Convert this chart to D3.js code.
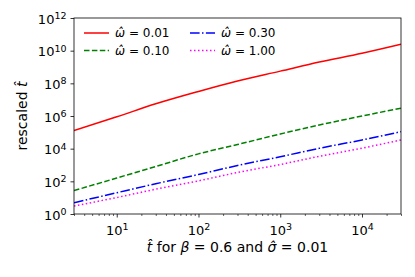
<!DOCTYPE html>
<html>
<head>
<meta charset="utf-8">
<script src="https://cdn.jsdelivr.net/npm/d3@7"></script>
<style>
  body { margin: 0; background: #fff; }
  svg { font-family: "DejaVu Sans", sans-serif; }
</style>
</head>
<body>
<div id="chart"></div>
<script>
// data
const tValues = [3, 10, 30, 100, 300, 1000, 3000, 10000, 30000];
const omega001 = [1.3e5, 8.9e5, 5.6e6, 3.2e7, 1.4e8, 5.6e8, 2e9, 7e9, 2.5e10];
const omega010 = [27, 160, 810, 4.8e3, 1.8e4, 7.9e4, 2.8e5, 1e6, 3e6];
const omega030 = [4.9, 20, 71, 263, 930, 3.2e3, 1.05e4, 3.4e4, 1.1e5];
const omega100 = [3.1, 10.2, 33, 107, 350, 1.07e3, 3.4e3, 1.07e4, 3.4e4];
const seriesLabels = ["0.01", "0.10", "0.30", "1.00"];
const xTickExp = [1, 2, 3, 4];
const yTickExp = [0, 2, 4, 6, 8, 10, 12];

const series = [
    {label: seriesLabels[0], values: omega001, color: "#ff0000", dash: null},
    {label: seriesLabels[1], values: omega010, color: "#008000", dash: "5.5,2.4"},
    {label: seriesLabels[2], values: omega030, color: "#0000ff", dash: "9.6,2.4,1.5,2.4"},
    {label: seriesLabels[3], values: omega100, color: "#ff00ff", dash: "1.5,2.5"}
];

const W = 415, H = 277;
const margin = {top: 18, right: 14, bottom: 63, left: 74};
const width = W - margin.left - margin.right;
const height = H - margin.top - margin.bottom;

const svg = d3.select("#chart").append("svg")
    .attr("width", W)
    .attr("height", H);

const g = svg.append("g")
    .attr("transform", "translate(" + margin.left + "," + margin.top + ")");

const x = d3.scaleLog().domain([3, 30000]).range([0, width]);
const y = d3.scaleLog().domain([1, 1e12]).range([height, 0]);

// superscript tick labels like 10^4
function powerLabel(sel, exps) {
    sel.each(function(d, i) {
        const t = d3.select(this);
        t.text(null);
        t.append("tspan").text("10");
        t.append("tspan")
            .attr("dy", "-0.5em")
            .attr("font-size", "9.5px")
            .text(exps[i]);
    });
}

// x axis: major + minor ticks
const minorX = [];
[1, 10, 100, 1000, 10000].forEach(b => {
    for (let k = 2; k <= 9; k++) {
        const v = b * k;
        if (v >= 3 && v <= 30000) minorX.push(v);
    }
});

g.append("g")
    .attr("transform", "translate(0," + height + ")")
    .call(d3.axisBottom(x).tickValues(minorX).tickSize(2).tickFormat(""))
    .call(a => a.select(".domain").remove())
    .call(a => a.selectAll("line").attr("stroke", "#000").attr("stroke-width", 0.6));

const xAxis = g.append("g")
    .attr("transform", "translate(0," + height + ")")
    .call(d3.axisBottom(x).tickValues(xTickExp.map(e => Math.pow(10, e))).tickSize(3.5).tickPadding(5));
xAxis.select(".domain").remove();
xAxis.selectAll("line").attr("stroke", "#000").attr("stroke-width", 0.8);
xAxis.selectAll("text").attr("font-size", "13px").attr("fill", "#000")
    .attr("font-family", "DejaVu Sans").attr("dy", "0.95em");
powerLabel(xAxis.selectAll("text"), xTickExp);

const yAxis = g.append("g")
    .call(d3.axisLeft(y).tickValues(yTickExp.map(e => Math.pow(10, e))).tickSize(3.5).tickPadding(4));
yAxis.select(".domain").remove();
yAxis.selectAll("line").attr("stroke", "#000").attr("stroke-width", 0.8);
yAxis.selectAll("text").attr("font-size", "13px").attr("fill", "#000")
    .attr("font-family", "DejaVu Sans").attr("dy", "0.4em");
powerLabel(yAxis.selectAll("text"), yTickExp);

// curves
const line = d3.line()
    .x((d, i) => x(tValues[i]))
    .y(d => y(d))
    .curve(d3.curveMonotoneX);

g.append("clipPath").attr("id", "clip")
    .append("rect").attr("width", width).attr("height", height);

g.append("g").attr("clip-path", "url(#clip)")
    .selectAll("path")
    .data(series)
    .enter()
    .append("path")
    .attr("d", d => line(d.values))
    .attr("fill", "none")
    .attr("stroke", d => d.color)
    .attr("stroke-width", 1.5)
    .attr("stroke-dasharray", d => d.dash);

// frame
g.append("rect")
    .attr("width", width)
    .attr("height", height)
    .attr("fill", "none")
    .attr("stroke", "#000")
    .attr("stroke-width", 0.8);

// legend, two columns
const legend = g.append("g").attr("font-size", "12px");
series.forEach((s, i) => {
    const col = Math.floor(i / 2), row = i % 2;
    const lg = legend.append("g")
        .attr("transform", "translate(" + (10 + col * 106) + "," + (15 + row * 17.5) + ")");
    lg.append("line")
        .attr("x1", 0).attr("x2", 25)
        .attr("stroke", s.color)
        .attr("stroke-width", 1.5)
        .attr("stroke-dasharray", s.dash);
    const t = lg.append("text").attr("x", 31).attr("dy", "0.35em");
    t.append("tspan").attr("font-style", "italic").text("ω\u0302");
    t.append("tspan").text(" = " + s.label);
});

// axis titles
const xt = g.append("text")
    .attr("x", width / 2)
    .attr("y", height + 38)
    .attr("text-anchor", "middle")
    .attr("font-size", "14px");
xt.append("tspan").attr("font-style", "italic").text("t\u0302");
xt.append("tspan").text(" for ");
xt.append("tspan").attr("font-style", "italic").text("β");
xt.append("tspan").text(" = 0.6 and ");
xt.append("tspan").attr("font-style", "italic").text("σ\u0302");
xt.append("tspan").text(" = 0.01");

const yt = g.append("text")
    .attr("transform", "rotate(-90)")
    .attr("x", -height / 2)
    .attr("y", -47)
    .attr("text-anchor", "middle")
    .attr("font-size", "14px");
yt.append("tspan").text("rescaled ");
yt.append("tspan").attr("font-style", "italic").text("t\u0302");
</script>
</body>
</html>
